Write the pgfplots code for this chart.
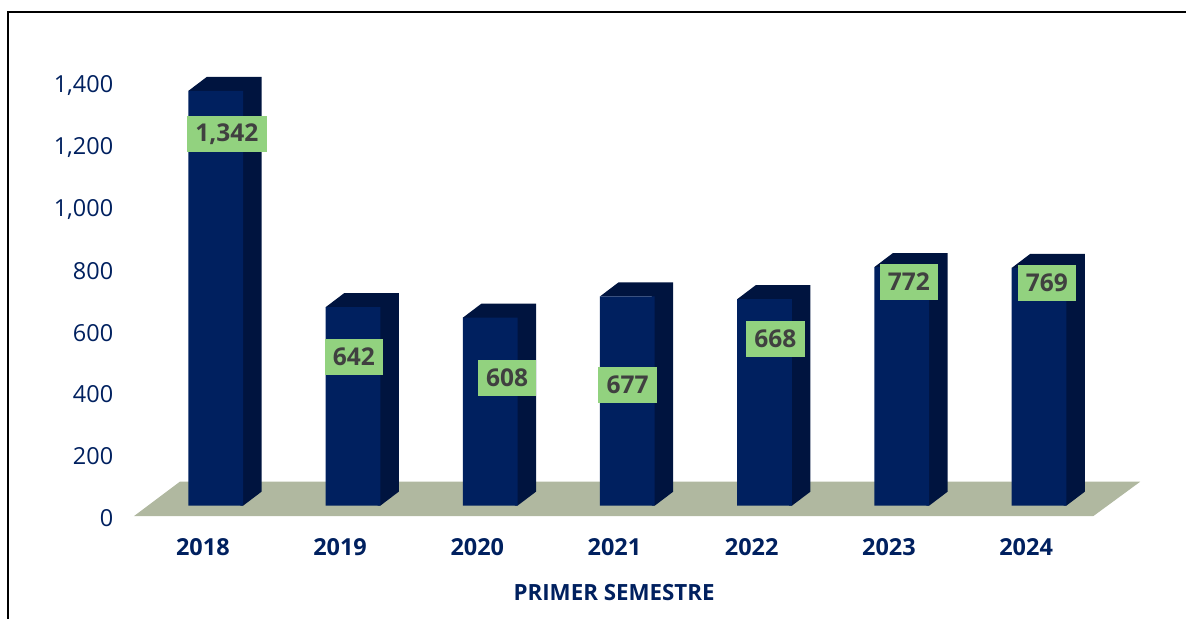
\documentclass[border=0pt]{standalone}
\usepackage{fontspec}
\setmainfont{Open Sans}
\usepackage{pgfplots}
\usepackage{pgfplotstable}
\pgfplotsset{compat=1.18}
\definecolor{navy}{HTML}{00205F}
\definecolor{navyside}{HTML}{00143F}
\definecolor{floorc}{HTML}{B0B8A0}
\definecolor{lblgreen}{HTML}{92D27F}
\definecolor{lbltext}{HTML}{404040}

\pgfplotstableread{
x v
0 1342
1 642
2 608
3 677
4 668
5 772
6 769
}\bars

% label boxes sit at hand-read spots, not at the bar tops
\pgfplotstableread{
x y label
0.1748 1237 1,342
1.0998 516 642
2.2178 448 608
3.0954 425 677
4.1733 574 668
5.1457 758 772
6.1507 755 769
}\labels

% side and top faces of one bar: cat, value
% (runs a little under the front face so no seam shows)
\newcommand{\barfaces}[2]{%
  \pgfmathsetmacro{\xr}{#1+0.2933}%
  \pgfmathsetmacro{\xu}{#1+0.2733}%
  \pgfmathsetmacro{\xl}{#1-0.1056}%
  \pgfmathsetmacro{\xrb}{#1+0.4280}%
  \pgfmathsetmacro{\xlb}{#1+0.0291}%
  \pgfmathsetmacro{\yf}{#2+33.9}%
  \pgfmathsetmacro{\yb}{#2+79.2}%
  \addplot[fill=navyside, draw=none, forget plot]
    coordinates {(\xu,33.9) (\xr,33.9) (\xrb,79.2) (\xrb,\yb) (\xlb,\yb) (\xl,\yf) (\xu,\yf)} --cycle;
}

\begin{document}
\begin{tikzpicture}[x=0.75pt,y=0.75pt]
\begin{axis}[
  scale only axis, width=755.25pt, height=324.75pt,
  xmin=-0.5025, xmax=6.8318, ymin=0, ymax=1400, clip=false,
  axis line style={draw=none}, major tick length=0pt,
  xtick={0,...,6}, xticklabels={2018,2019,2020,2021,2022,2023,2024},
  ytick={0,200,...,1400},
  /pgf/number format/.cd, assume math mode=true, 1000 sep={,}, /pgfplots/.cd,
  xticklabel style={font=\fontsize{17.6}{20}\selectfont\bfseries, text=navy, yshift=-13.5pt},
  yticklabel style={font=\fontsize{17.6}{20}\selectfont, text=navy, xshift=-12pt, yshift=-1.5pt},
  xlabel={PRIMER SEMESTRE},
  xlabel style={font=\fontsize{16.75}{20}\selectfont\bfseries, text=navy, xshift=-17.25pt, yshift=-14pt},
]
\addplot[fill=floorc, draw=none, forget plot]
  coordinates {(-0.5025,0) (6.4894,0) (6.8318,111.5) (-0.1675,111.5)} --cycle;

\barfaces{0}{1342}
\barfaces{1}{642}
\barfaces{2}{608}
\barfaces{3}{677}
\barfaces{4}{668}
\barfaces{5}{772}
\barfaces{6}{769}

% front faces
\addplot[ybar, bar width=41.1pt, bar shift=9.66pt, yshift=7.875pt,
  fill=navy, draw=none, forget plot] table[x=x, y=v] {\bars};

\addplot[draw=none, mark=none, forget plot,
  point meta=explicit symbolic, nodes near coords, nodes near coords align=center,
  every node near coord/.style={anchor=center, fill=lblgreen, text=lbltext,
    font=\fontsize{18.4}{20}\selectfont\bfseries, inner xsep=6.2pt, inner ysep=0pt,
    minimum height=27pt}]
  table[x=x, y=y, meta=label] {\labels};
\end{axis}
% outer frame of the slide, open on the right and below
\draw[black, line width=1.2pt] (-126,-102.5) -- (-126,504.5) -- (1053,504.5);
\path (-134,-102.5) rectangle (1053,516.5);
\end{tikzpicture}
\end{document}
